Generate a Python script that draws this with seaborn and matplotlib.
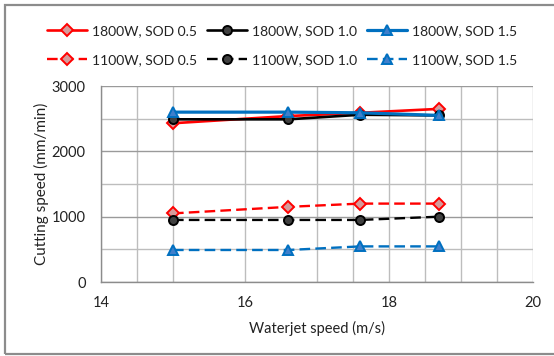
import matplotlib
matplotlib.use("Agg")
import matplotlib.pyplot as plt
import matplotlib.patches as mpatches
from matplotlib.ticker import MultipleLocator, FixedLocator
import seaborn as sns
import pandas as pd

# Waterjet speed (m/s) at which each condition was measured
waterjet_speed = [15.0, 16.6, 17.6, 18.7]

# Cutting speed (mm/min)
cut_1800_sod05 = [2430, 2540, 2590, 2650]
cut_1800_sod10 = [2490, 2490, 2560, 2550]
cut_1800_sod15 = [2600, 2600, 2590, 2550]
cut_1100_sod05 = [1050, 1150, 1200, 1200]
cut_1100_sod10 = [950, 950, 950, 1000]
cut_1100_sod15 = [490, 490, 545, 545]

series_labels = ["1800W, SOD 0.5", "1800W, SOD 1.0", "1800W, SOD 1.5",
                 "1100W, SOD 0.5", "1100W, SOD 1.0", "1100W, SOD 1.5"]
series_values = [cut_1800_sod05, cut_1800_sod10, cut_1800_sod15,
                 cut_1100_sod05, cut_1100_sod10, cut_1100_sod15]

x_ticks = [14, 16, 18, 20]
y_ticks = [0, 1000, 2000, 3000]

sns.set_theme(style="white")
plt.rcParams["font.family"] = ["Lato", "DejaVu Sans"]

RED, BLACK, BLUE = "#FF0000", "#000000", "#0070C0"
DASH = (0, (4.5, 2.2))
styles = {
    "1800W, SOD 0.5": dict(color=RED, marker="D", mfc="#D69A9A", mec=RED, ms=6.5, ls="-", lw=1.9),
    "1800W, SOD 1.0": dict(color=BLACK, marker="o", mfc="#404040", mec=BLACK, ms=6.5, ls="-", lw=1.9),
    "1800W, SOD 1.5": dict(color=BLUE, marker="^", mfc="#3F7FCB", mec=BLUE, ms=7.5, ls="-", lw=2.3),
    "1100W, SOD 0.5": dict(color=RED, marker="D", mfc="#D69A9A", mec=RED, ms=6.5, ls=DASH, lw=1.7),
    "1100W, SOD 1.0": dict(color=BLACK, marker="o", mfc="#404040", mec=BLACK, ms=6.5, ls=DASH, lw=1.7),
    "1100W, SOD 1.5": dict(color=BLUE, marker="^", mfc="#3F7FCB", mec=BLUE, ms=7.5, ls=DASH, lw=1.7),
}

df = pd.DataFrame(
    [(lab, x, y) for lab, vals in zip(series_labels, series_values)
     for x, y in zip(waterjet_speed, vals)],
    columns=["series", "speed", "cutting"],
)

fig = plt.figure(figsize=(5.54, 3.56), dpi=100)
ax = fig.add_axes([101 / 554, 1 - 282 / 356, 432 / 554, 196 / 356])

handles = {}
for lab in series_labels:
    st = styles[lab]
    sub = df[df["series"] == lab]
    sns.lineplot(data=sub, x="speed", y="cutting", ax=ax, color=st["color"],
                 marker=st["marker"], markerfacecolor=st["mfc"],
                 markeredgecolor=st["mec"], markeredgewidth=1.4,
                 markersize=st["ms"], linestyle=st["ls"], linewidth=st["lw"],
                 label=lab, legend=False, errorbar=None, zorder=3)
    handles[lab] = ax.get_lines()[-1]

ax.set_xlim(14, 20)
ax.set_ylim(0, 3000)
ax.xaxis.set_major_locator(FixedLocator(x_ticks))
ax.yaxis.set_major_locator(FixedLocator(y_ticks))
ax.xaxis.set_minor_locator(FixedLocator([14.5, 15, 17, 17.5, 18.5, 19, 19.5]))
ax.yaxis.set_minor_locator(MultipleLocator(500))

grid_c = "#BDBDBD"
ax.grid(True, which="major", axis="y", color="#9A9A9A", lw=1.0, zorder=0)
ax.grid(True, which="minor", axis="y", color=grid_c, lw=1.0, zorder=0)
ax.grid(True, which="both", axis="x", color=grid_c, lw=1.0, zorder=0)

for side in ["top", "right"]:
    ax.spines[side].set_visible(False)
for side in ["left", "bottom"]:
    ax.spines[side].set_color("#8C8C8C")
    ax.spines[side].set_linewidth(1.0)

ax.tick_params(axis="both", which="major", direction="out", length=4,
               width=1.0, color="#8C8C8C", labelsize=10.5, labelcolor="#222222")
ax.tick_params(axis="x", which="major", pad=6)
ax.tick_params(axis="y", which="major", pad=7)
ax.tick_params(which="minor", length=0)

ax.set_xlabel("Waterjet speed (m/s)", fontsize=10.5, color="#222222", labelpad=8)
ax.set_ylabel("Cutting speed (mm/min)", fontsize=11, color="#222222", labelpad=2)

order = ["1800W, SOD 0.5", "1100W, SOD 0.5", "1800W, SOD 1.0",
         "1100W, SOD 1.0", "1800W, SOD 1.5", "1100W, SOD 1.5"]
fig.legend([handles[k] for k in order], order, loc="center",
           bbox_to_anchor=(282 / 554, 1 - 45.5 / 356), ncol=3, frameon=False,
           fontsize=10, handlelength=2.9, handletextpad=0.3,
           columnspacing=0.75, labelspacing=1.25, labelcolor="#222222")

# outer chart frame
fig.patches.append(mpatches.Rectangle(
    (5 / 554, 1 - 354 / 356), 1.2, 349 / 356, transform=fig.transFigure,
    fill=False, edgecolor="#8C8C8C", linewidth=1.6))

fig.savefig("out.png", dpi=100)
